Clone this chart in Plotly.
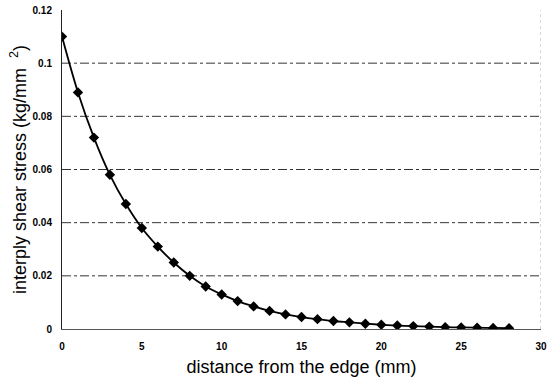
import plotly.graph_objects as go

# distance from the edge (mm) and interply shear stress (kg/mm^2)
distance = list(range(0, 29))
shear_stress = [0.110, 0.089, 0.072, 0.058, 0.047, 0.038, 0.031, 0.025, 0.020,
                0.016, 0.013, 0.0105, 0.0085, 0.0068, 0.0055, 0.0045, 0.0037,
                0.0030, 0.0025, 0.0020, 0.0016, 0.0013, 0.0011, 0.0009, 0.0007,
                0.0006, 0.0005, 0.0004, 0.0003]

x_ticks = [0, 5, 10, 15, 20, 25, 30]
y_ticks = [0, 0.02, 0.04, 0.06, 0.08, 0.1, 0.12]
y_tick_text = ["0", "0.02", "0.04", "0.06", "0.08", "0.1", "0.12"]

fig = go.Figure()

# horizontal dash-dot reference lines
for yv in y_ticks[1:-1]:
    fig.add_shape(type="line", xref="x", yref="y", x0=0, x1=30, y0=yv, y1=yv,
                  line=dict(color="#333333", width=1, dash="dashdot"), layer="below")

# faint dotted right border
fig.add_shape(type="line", xref="x", yref="y", x0=30, x1=30, y0=0, y1=0.12,
              line=dict(color="#aaaaaa", width=1, dash="dot"), layer="below")

fig.add_trace(go.Scatter(
    x=distance, y=shear_stress, mode="lines+markers",
    line=dict(color="black", width=1.8, shape="spline"),
    marker=dict(symbol="diamond", size=8, color="black"),
    showlegend=False,
))

tick_font = dict(size=10, family="Liberation Sans, Arial", weight="bold")

fig.update_layout(
    width=553, height=378,
    margin=dict(l=62, r=12, t=10, b=49),
    paper_bgcolor="white", plot_bgcolor="white",
    font=dict(family="Liberation Sans, Arial, sans-serif", color="black"),
    xaxis=dict(
        range=[0, 30], tickmode="array", tickvals=x_ticks,
        showgrid=False, zeroline=False, automargin=False,
        showline=True, linecolor="#555555", linewidth=1,
        ticks="", tickfont=tick_font, ticklabelstandoff=8,
        title=dict(text="distance from the edge (mm)", font=dict(size=18), standoff=9),
    ),
    yaxis=dict(
        range=[0, 0.12], tickmode="array", tickvals=y_ticks, ticktext=y_tick_text,
        showgrid=False, zeroline=False, automargin=False,
        showline=True, linecolor="#222222", linewidth=1,
        ticks="", tickfont=tick_font, ticklabelstandoff=7,
        title=dict(text="interply shear stress (kg/mm  <sup>2</sup>)", font=dict(size=18), standoff=1),
    ),
)

fig.write_html("out.html")
